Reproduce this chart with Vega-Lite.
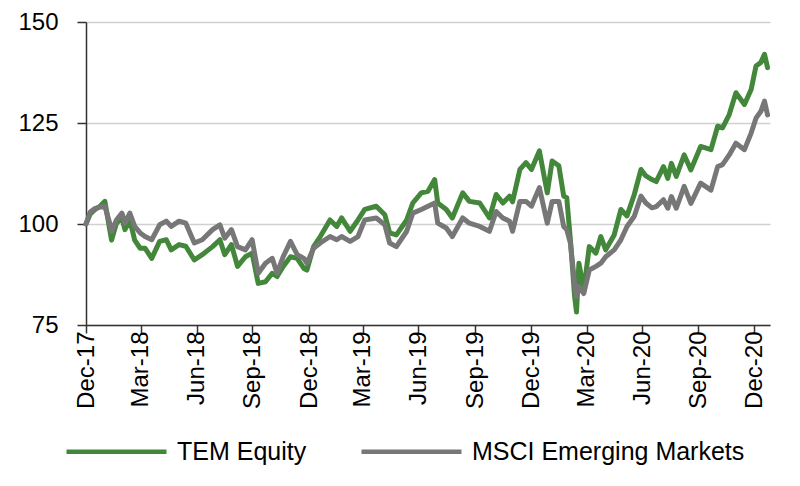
{
  "$schema": "https://vega.github.io/schema/vega-lite/v6.json",
  "width": 684,
  "height": 303,
  "autosize": "none",
  "padding": {"left": 86, "top": 22, "right": 30, "bottom": 161},
  "background": "white",
  "config": {
    "view": {"stroke": null},
    "font": "Liberation Sans"
  },
  "data": {
    "values": [
      {"date": "2017-12-29", "TEM Equity": 100.0, "MSCI Emerging Markets": 100.0},
      {"date": "2018-01-05", "TEM Equity": 102.5, "MSCI Emerging Markets": 103.0},
      {"date": "2018-01-12", "TEM Equity": 103.5, "MSCI Emerging Markets": 103.8},
      {"date": "2018-01-21", "TEM Equity": 104.4, "MSCI Emerging Markets": 104.2},
      {"date": "2018-01-29", "TEM Equity": 105.6, "MSCI Emerging Markets": 104.4},
      {"date": "2018-02-06", "TEM Equity": 98.6, "MSCI Emerging Markets": 100.2},
      {"date": "2018-02-09", "TEM Equity": 96.0, "MSCI Emerging Markets": 98.2},
      {"date": "2018-02-17", "TEM Equity": 100.2, "MSCI Emerging Markets": 101.0},
      {"date": "2018-02-26", "TEM Equity": 101.5, "MSCI Emerging Markets": 102.7},
      {"date": "2018-03-03", "TEM Equity": 98.6, "MSCI Emerging Markets": 100.2},
      {"date": "2018-03-11", "TEM Equity": 101.0, "MSCI Emerging Markets": 102.7},
      {"date": "2018-03-19", "TEM Equity": 96.0, "MSCI Emerging Markets": 99.4},
      {"date": "2018-03-28", "TEM Equity": 94.0, "MSCI Emerging Markets": 97.8},
      {"date": "2018-04-05", "TEM Equity": 94.0, "MSCI Emerging Markets": 96.9},
      {"date": "2018-04-16", "TEM Equity": 91.5, "MSCI Emerging Markets": 96.1},
      {"date": "2018-04-29", "TEM Equity": 95.7, "MSCI Emerging Markets": 99.8},
      {"date": "2018-05-10", "TEM Equity": 96.1, "MSCI Emerging Markets": 100.7},
      {"date": "2018-05-18", "TEM Equity": 93.6, "MSCI Emerging Markets": 99.4},
      {"date": "2018-05-31", "TEM Equity": 94.9, "MSCI Emerging Markets": 100.7},
      {"date": "2018-06-11", "TEM Equity": 94.5, "MSCI Emerging Markets": 100.2},
      {"date": "2018-06-25", "TEM Equity": 91.1, "MSCI Emerging Markets": 95.3},
      {"date": "2018-07-08", "TEM Equity": 92.4, "MSCI Emerging Markets": 96.1},
      {"date": "2018-07-25", "TEM Equity": 94.4, "MSCI Emerging Markets": 98.6},
      {"date": "2018-08-06", "TEM Equity": 96.1, "MSCI Emerging Markets": 99.8},
      {"date": "2018-08-14", "TEM Equity": 92.4, "MSCI Emerging Markets": 96.5},
      {"date": "2018-08-25", "TEM Equity": 94.9, "MSCI Emerging Markets": 98.6},
      {"date": "2018-09-04", "TEM Equity": 89.5, "MSCI Emerging Markets": 94.4},
      {"date": "2018-09-17", "TEM Equity": 91.9, "MSCI Emerging Markets": 93.6},
      {"date": "2018-09-28", "TEM Equity": 92.8, "MSCI Emerging Markets": 96.1},
      {"date": "2018-10-08", "TEM Equity": 85.3, "MSCI Emerging Markets": 87.8},
      {"date": "2018-10-20", "TEM Equity": 85.7, "MSCI Emerging Markets": 90.3},
      {"date": "2018-10-31", "TEM Equity": 87.8, "MSCI Emerging Markets": 91.5},
      {"date": "2018-11-08", "TEM Equity": 87.0, "MSCI Emerging Markets": 87.8},
      {"date": "2018-11-18", "TEM Equity": 89.5, "MSCI Emerging Markets": 91.9},
      {"date": "2018-11-30", "TEM Equity": 91.9, "MSCI Emerging Markets": 95.7},
      {"date": "2018-12-11", "TEM Equity": 91.5, "MSCI Emerging Markets": 92.4},
      {"date": "2018-12-22", "TEM Equity": 89.0, "MSCI Emerging Markets": 91.5},
      {"date": "2018-12-27", "TEM Equity": 88.6, "MSCI Emerging Markets": 90.3},
      {"date": "2019-01-07", "TEM Equity": 94.4, "MSCI Emerging Markets": 94.0},
      {"date": "2019-01-18", "TEM Equity": 96.9, "MSCI Emerging Markets": 95.3},
      {"date": "2019-02-03", "TEM Equity": 101.0, "MSCI Emerging Markets": 96.9},
      {"date": "2019-02-14", "TEM Equity": 99.4, "MSCI Emerging Markets": 96.1},
      {"date": "2019-02-22", "TEM Equity": 101.5, "MSCI Emerging Markets": 96.9},
      {"date": "2019-03-08", "TEM Equity": 98.2, "MSCI Emerging Markets": 95.7},
      {"date": "2019-03-21", "TEM Equity": 101.0, "MSCI Emerging Markets": 96.9},
      {"date": "2019-04-01", "TEM Equity": 103.6, "MSCI Emerging Markets": 101.0},
      {"date": "2019-04-20", "TEM Equity": 104.4, "MSCI Emerging Markets": 101.5},
      {"date": "2019-05-04", "TEM Equity": 102.3, "MSCI Emerging Markets": 99.8},
      {"date": "2019-05-12", "TEM Equity": 97.8, "MSCI Emerging Markets": 95.3},
      {"date": "2019-05-23", "TEM Equity": 97.3, "MSCI Emerging Markets": 94.4},
      {"date": "2019-06-09", "TEM Equity": 101.0, "MSCI Emerging Markets": 98.2},
      {"date": "2019-06-19", "TEM Equity": 105.2, "MSCI Emerging Markets": 102.7},
      {"date": "2019-07-03", "TEM Equity": 107.7, "MSCI Emerging Markets": 103.6},
      {"date": "2019-07-14", "TEM Equity": 108.1, "MSCI Emerging Markets": 104.4},
      {"date": "2019-07-25", "TEM Equity": 111.0, "MSCI Emerging Markets": 105.2},
      {"date": "2019-07-30", "TEM Equity": 105.2, "MSCI Emerging Markets": 100.2},
      {"date": "2019-08-13", "TEM Equity": 103.6, "MSCI Emerging Markets": 99.0},
      {"date": "2019-08-23", "TEM Equity": 101.5, "MSCI Emerging Markets": 96.9},
      {"date": "2019-09-09", "TEM Equity": 107.7, "MSCI Emerging Markets": 101.5},
      {"date": "2019-09-20", "TEM Equity": 105.6, "MSCI Emerging Markets": 100.2},
      {"date": "2019-10-07", "TEM Equity": 105.2, "MSCI Emerging Markets": 99.4},
      {"date": "2019-10-23", "TEM Equity": 101.5, "MSCI Emerging Markets": 98.2},
      {"date": "2019-11-03", "TEM Equity": 107.3, "MSCI Emerging Markets": 103.1},
      {"date": "2019-11-14", "TEM Equity": 105.2, "MSCI Emerging Markets": 101.5},
      {"date": "2019-11-25", "TEM Equity": 106.9, "MSCI Emerging Markets": 100.7},
      {"date": "2019-11-30", "TEM Equity": 105.5, "MSCI Emerging Markets": 98.2},
      {"date": "2019-12-12", "TEM Equity": 113.5, "MSCI Emerging Markets": 105.6},
      {"date": "2019-12-22", "TEM Equity": 115.2, "MSCI Emerging Markets": 105.6},
      {"date": "2019-12-31", "TEM Equity": 113.5, "MSCI Emerging Markets": 104.4},
      {"date": "2020-01-13", "TEM Equity": 118.1, "MSCI Emerging Markets": 109.0},
      {"date": "2020-01-26", "TEM Equity": 107.7, "MSCI Emerging Markets": 100.2},
      {"date": "2020-02-03", "TEM Equity": 115.6, "MSCI Emerging Markets": 105.6},
      {"date": "2020-02-14", "TEM Equity": 114.4, "MSCI Emerging Markets": 105.6},
      {"date": "2020-02-22", "TEM Equity": 106.9, "MSCI Emerging Markets": 99.4},
      {"date": "2020-02-27", "TEM Equity": 106.5, "MSCI Emerging Markets": 98.6},
      {"date": "2020-03-04", "TEM Equity": 96.1, "MSCI Emerging Markets": 95.3},
      {"date": "2020-03-11", "TEM Equity": 82.0, "MSCI Emerging Markets": 85.3},
      {"date": "2020-03-14", "TEM Equity": 78.2, "MSCI Emerging Markets": 82.0},
      {"date": "2020-03-18", "TEM Equity": 90.3, "MSCI Emerging Markets": 84.5},
      {"date": "2020-03-26", "TEM Equity": 83.6, "MSCI Emerging Markets": 82.8},
      {"date": "2020-04-04", "TEM Equity": 94.4, "MSCI Emerging Markets": 88.6},
      {"date": "2020-04-15", "TEM Equity": 92.8, "MSCI Emerging Markets": 89.5},
      {"date": "2020-04-23", "TEM Equity": 96.9, "MSCI Emerging Markets": 90.3},
      {"date": "2020-05-01", "TEM Equity": 93.6, "MSCI Emerging Markets": 91.9},
      {"date": "2020-05-15", "TEM Equity": 97.3, "MSCI Emerging Markets": 93.6},
      {"date": "2020-05-26", "TEM Equity": 103.6, "MSCI Emerging Markets": 96.1},
      {"date": "2020-06-05", "TEM Equity": 102.0, "MSCI Emerging Markets": 99.4},
      {"date": "2020-06-17", "TEM Equity": 107.3, "MSCI Emerging Markets": 101.9},
      {"date": "2020-06-28", "TEM Equity": 113.5, "MSCI Emerging Markets": 106.9},
      {"date": "2020-07-06", "TEM Equity": 111.9, "MSCI Emerging Markets": 105.2},
      {"date": "2020-07-16", "TEM Equity": 111.0, "MSCI Emerging Markets": 104.0},
      {"date": "2020-07-23", "TEM Equity": 110.5, "MSCI Emerging Markets": 104.3},
      {"date": "2020-08-04", "TEM Equity": 114.2, "MSCI Emerging Markets": 106.0},
      {"date": "2020-08-11", "TEM Equity": 111.3, "MSCI Emerging Markets": 103.9},
      {"date": "2020-08-17", "TEM Equity": 115.0, "MSCI Emerging Markets": 106.8},
      {"date": "2020-08-25", "TEM Equity": 111.8, "MSCI Emerging Markets": 103.9},
      {"date": "2020-09-07", "TEM Equity": 117.1, "MSCI Emerging Markets": 109.3},
      {"date": "2020-09-18", "TEM Equity": 113.4, "MSCI Emerging Markets": 105.1},
      {"date": "2020-10-04", "TEM Equity": 119.2, "MSCI Emerging Markets": 110.1},
      {"date": "2020-10-21", "TEM Equity": 118.4, "MSCI Emerging Markets": 108.4},
      {"date": "2020-11-01", "TEM Equity": 124.2, "MSCI Emerging Markets": 114.2},
      {"date": "2020-11-09", "TEM Equity": 123.8, "MSCI Emerging Markets": 114.7},
      {"date": "2020-11-20", "TEM Equity": 127.1, "MSCI Emerging Markets": 117.1},
      {"date": "2020-12-01", "TEM Equity": 132.5, "MSCI Emerging Markets": 120.0},
      {"date": "2020-12-15", "TEM Equity": 129.6, "MSCI Emerging Markets": 118.4},
      {"date": "2020-12-26", "TEM Equity": 133.3, "MSCI Emerging Markets": 122.5},
      {"date": "2021-01-03", "TEM Equity": 139.1, "MSCI Emerging Markets": 126.2},
      {"date": "2021-01-11", "TEM Equity": 140.0, "MSCI Emerging Markets": 127.9},
      {"date": "2021-01-17", "TEM Equity": 142.0, "MSCI Emerging Markets": 130.4},
      {"date": "2021-01-22", "TEM Equity": 138.7, "MSCI Emerging Markets": 127.0}
    ]
  },
  "transform": [
    {"fold": ["TEM Equity", "MSCI Emerging Markets"], "as": ["series", "value"]}
  ],
  "mark": {"type": "line", "strokeWidth": 5, "strokeJoin": "round", "strokeCap": "round"},
  "encoding": {
    "x": {
      "field": "date",
      "type": "temporal",
      "scale": {
        "type": "utc",
        "domain": [
          {"year": 2017, "month": 12, "date": 29, "utc": true},
          {"year": 2021, "month": 1, "date": 26, "utc": true}
        ]
      },
      "axis": {
        "title": null,
        "format": "%b-%y",
        "values": [
          {"year": 2017, "month": 12, "date": 29, "utc": true},
          {"year": 2018, "month": 3, "date": 29, "utc": true},
          {"year": 2018, "month": 6, "date": 29, "utc": true},
          {"year": 2018, "month": 9, "date": 28, "utc": true},
          {"year": 2018, "month": 12, "date": 31, "utc": true},
          {"year": 2019, "month": 3, "date": 29, "utc": true},
          {"year": 2019, "month": 6, "date": 28, "utc": true},
          {"year": 2019, "month": 9, "date": 30, "utc": true},
          {"year": 2019, "month": 12, "date": 31, "utc": true},
          {"year": 2020, "month": 3, "date": 31, "utc": true},
          {"year": 2020, "month": 6, "date": 30, "utc": true},
          {"year": 2020, "month": 9, "date": 30, "utc": true},
          {"year": 2020, "month": 12, "date": 31, "utc": true}
        ],
        "labelAngle": -90,
        "labelAlign": "right",
        "labelBaseline": "middle",
        "labelFont": "Liberation Sans",
        "labelFontSize": 24,
        "labelColor": "black",
        "labelPadding": -2,
        "labelOverlap": false,
        "labelFlush": false,
        "tickSize": 8,
        "tickColor": "#333333",
        "tickWidth": 1.5,
        "domainColor": "#333333",
        "domainWidth": 1.5,
        "grid": false
      }
    },
    "y": {
      "field": "value",
      "type": "quantitative",
      "scale": {"domain": [75, 150], "nice": false, "zero": false},
      "axis": {
        "title": null,
        "values": [75, 100, 125, 150],
        "labelFont": "Liberation Sans",
        "labelFontSize": 24,
        "labelColor": "black",
        "labelPadding": 19,
        "tickSize": 9,
        "tickColor": "#333333",
        "tickWidth": 1.5,
        "domainColor": "#333333",
        "domainWidth": 1.5,
        "grid": true,
        "gridColor": "#d0d0d0",
        "gridWidth": 1.5
      }
    },
    "color": {
      "field": "series",
      "type": "nominal",
      "sort": ["TEM Equity", "MSCI Emerging Markets"],
      "scale": {
        "domain": ["TEM Equity", "MSCI Emerging Markets"],
        "range": ["#43873a", "#777777"]
      },
      "legend": {
        "title": null,
        "orient": "none",
        "direction": "horizontal",
        "legendX": -22,
        "legendY": 377,
        "padding": 0,
        "symbolType": "stroke",
        "symbolSize": 10000,
        "symbolStrokeWidth": 4.5,
        "labelFont": "Liberation Sans",
        "labelFontSize": 25,
        "labelColor": "black",
        "labelOffset": 8,
        "labelLimit": 500,
        "columnPadding": 45
      }
    }
  }
}
